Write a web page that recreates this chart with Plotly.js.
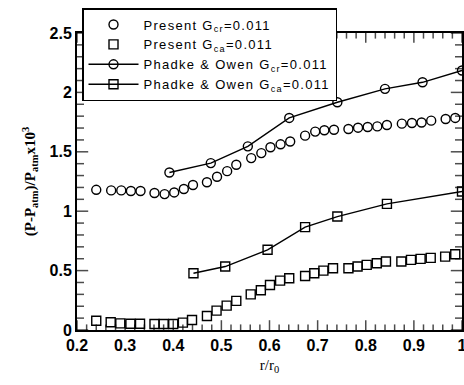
<!DOCTYPE html>
<html>
<head>
<meta charset="utf-8">
<script src="https://cdn.plot.ly/plotly-3.0.1.min.js"></script>
<style>html,body{margin:0;padding:0;background:#fff;}#chart{width:464px;height:385px;}
.legendtext{letter-spacing:1.3px;}</style>
</head>
<body>
<div id="chart"></div>
<script>
// Present G_cr = 0.011 (open circles)
const presCrX = [0.240,0.271,0.292,0.312,0.332,0.361,0.382,0.402,0.422,0.441,0.470,0.491,0.512,0.531,0.562,0.583,0.602,0.623,0.643,0.674,0.695,0.714,0.734,0.764,0.784,0.804,0.824,0.844,0.875,0.896,0.916,0.936,0.966,0.986];
const presCrY = [1.180,1.175,1.175,1.170,1.170,1.153,1.144,1.158,1.187,1.221,1.244,1.290,1.337,1.391,1.447,1.489,1.538,1.563,1.587,1.636,1.670,1.681,1.686,1.692,1.703,1.709,1.714,1.726,1.737,1.742,1.747,1.762,1.776,1.785];
// Present G_ca = 0.011 (open squares)
const presCaX = [0.240,0.270,0.290,0.311,0.331,0.361,0.380,0.400,0.420,0.439,0.470,0.490,0.511,0.531,0.561,0.582,0.601,0.622,0.641,0.674,0.693,0.712,0.732,0.764,0.783,0.802,0.823,0.842,0.874,0.894,0.914,0.935,0.965,0.986];
const presCaY = [0.078,0.065,0.056,0.053,0.053,0.050,0.050,0.050,0.062,0.084,0.118,0.163,0.205,0.245,0.300,0.335,0.379,0.416,0.436,0.455,0.478,0.500,0.520,0.520,0.534,0.548,0.562,0.576,0.576,0.590,0.599,0.607,0.618,0.638];
// Phadke & Owen G_cr = 0.011
const poCrX = [0.392,0.478,0.555,0.641,0.741,0.840,0.918,1.000];
const poCrY = [1.326,1.405,1.546,1.785,1.917,2.030,2.085,2.184];
// Phadke & Owen G_ca = 0.011
const poCaX = [0.442,0.508,0.596,0.674,0.741,0.844,1.000];
const poCaY = [0.478,0.534,0.675,0.866,0.955,1.062,1.166];

const X_RANGE = [0.2, 1.0];
const Y_RANGE = [0, 2.5];
const X_MINOR_STEP = 0.02, X_MAJOR_EVERY = 5;   // major every 0.1
const Y_MINOR_STEP = 0.1,  Y_MAJOR_EVERY = 5;   // major every 0.5

const mk = (sym) => ({symbol: sym, size: 9, color: '#000', line: {color: '#000', width: 1.4}});

const traces = [
  {x: presCrX, y: presCrY, mode: 'markers', name: 'Present G<sub>cr</sub>=0.011', marker: mk('circle-open')},
  {x: presCaX, y: presCaY, mode: 'markers', name: 'Present G<sub>ca</sub>=0.011', marker: mk('square-open')},
  {x: poCrX, y: poCrY, mode: 'lines+markers', name: 'Phadke &amp; Owen G<sub>cr</sub>=0.011', marker: mk('circle-open'), line: {color: '#000', width: 1.4}},
  {x: poCaX, y: poCaY, mode: 'lines+markers', name: 'Phadke &amp; Owen G<sub>ca</sub>=0.011', marker: mk('square-open'), line: {color: '#000', width: 1.4}}
];

// inward tick marks: line markers centred on each axis edge, the outer half clipped by the plot area
const xTickPos = [], xTickSize = [];
for (let i = 0; i <= Math.round((X_RANGE[1] - X_RANGE[0]) / X_MINOR_STEP); i++) {
  xTickPos.push(+(X_RANGE[0] + i * X_MINOR_STEP).toFixed(4));
  xTickSize.push(i % X_MAJOR_EVERY === 0 ? 14 : 8);
}
const yTickPos = [], yTickSize = [];
for (let i = 0; i <= Math.round((Y_RANGE[1] - Y_RANGE[0]) / Y_MINOR_STEP); i++) {
  yTickPos.push(+(Y_RANGE[0] + i * Y_MINOR_STEP).toFixed(4));
  yTickSize.push(i % Y_MAJOR_EVERY === 0 ? 16 : 10);
}
const tickTrace = (x, y, sym, sizes) => ({x: x, y: y, mode: 'markers', showlegend: false, hoverinfo: 'skip', cliponaxis: true,
  marker: {symbol: sym, size: sizes, color: '#000', line: {color: '#000', width: 1.5}}});
traces.push(
  tickTrace(xTickPos, xTickPos.map(() => Y_RANGE[0]), 'line-ns-open', xTickSize),
  tickTrace(xTickPos, xTickPos.map(() => Y_RANGE[1]), 'line-ns-open', xTickSize),
  tickTrace(yTickPos.map(() => X_RANGE[0]), yTickPos, 'line-ew-open', yTickSize),
  tickTrace(yTickPos.map(() => X_RANGE[1]), yTickPos, 'line-ew-open', yTickSize)
);

const tickFont = {family: 'Liberation Sans, Arial, sans-serif', size: 16, color: '#000', weight: 'bold'};

const layout = {
  width: 464, height: 385,
  margin: {l: 77, r: 2, t: 33, b: 55},
  paper_bgcolor: '#fff', plot_bgcolor: '#fff',
  showlegend: true,
  legend: {
    x: 0.013, y: 1.084, xanchor: 'left', yanchor: 'top',
    bgcolor: '#fff', bordercolor: '#000', borderwidth: 1.5,
    font: {family: 'Liberation Sans, Arial, sans-serif', size: 13, color: '#000'},
    tracegroupgap: 0, itemwidth: 50
  },
  xaxis: {
    range: X_RANGE, showgrid: false, zeroline: false,
    showline: true, linecolor: '#000', linewidth: 2, mirror: true,
    tickmode: 'linear', tick0: 0.2, dtick: 0.1, ticks: '',
    tickfont: tickFont, ticklabeloverflow: 'allow',
    title: {text: 'r/r<sub>0</sub>', font: {family: 'Liberation Serif, Times New Roman, serif', size: 15, color: '#000'}, standoff: 6}
  },
  yaxis: {
    range: Y_RANGE, showgrid: false, zeroline: false,
    showline: true, linecolor: '#000', linewidth: 2, mirror: true,
    tickmode: 'linear', tick0: 0, dtick: 0.5, ticks: '',
    tickfont: tickFont,
    title: {text: '(P-P<sub>atm</sub>)/P<sub>atm</sub>x10<sup>3</sup>', font: {family: 'Liberation Serif, Times New Roman, serif', size: 15, color: '#000', weight: 'bold'}, standoff: 10}
  }
};

Plotly.newPlot('chart', traces, layout, {displayModeBar: false, staticPlot: true});
</script>
</body>
</html>
